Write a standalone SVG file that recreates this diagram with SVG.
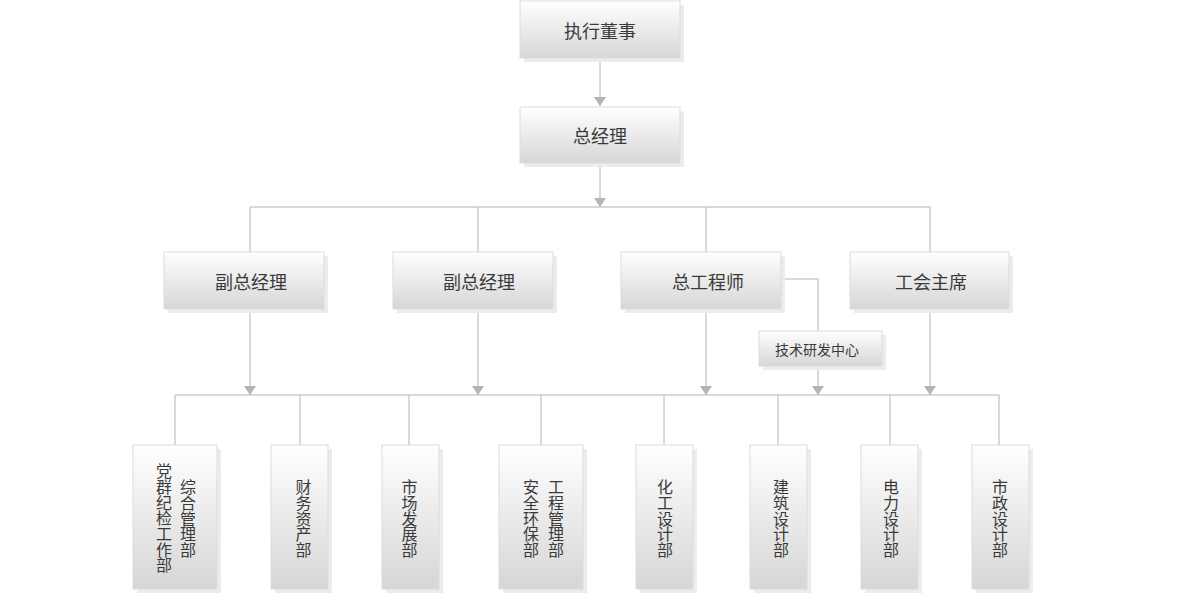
<svg xmlns="http://www.w3.org/2000/svg" width="1200" height="600" viewBox="0 0 1200 600">
<defs>
<linearGradient id="g" x1="0" y1="0" x2="0" y2="1">
<stop offset="0" stop-color="#ffffff"/>
<stop offset="1" stop-color="#d6d6d6"/>
</linearGradient>
<marker id="arr" viewBox="0 -6 9 12" refX="9" refY="0" markerWidth="9" markerHeight="12" markerUnits="userSpaceOnUse" orient="auto">
<path d="M0,-6 L9,0 L0,6 z" fill="#b4b4b4"/>
</marker>
<style>
.box{fill:url(#g);stroke:#dcdcdc;stroke-width:1}
.sh{fill:#ececec}
.ln{fill:none;stroke:#b4b4b4;stroke-width:1}
text{font-family:"Noto Sans CJK SC","Noto Sans",sans-serif;fill:#3a3a3a;text-anchor:middle;dominant-baseline:central}
.t18{font-size:18px}
.t14{font-size:14px}
.v{font-size:16px;writing-mode:vertical-rl;letter-spacing:-0.3px}
</style>
</defs>
<rect width="1200" height="600" fill="#ffffff"/>
<g id="connectors">
<path class="ln" d="M600,58 V106" marker-end="url(#arr)"/>
<path class="ln" d="M600,163 V207" marker-end="url(#arr)"/>
<path class="ln" d="M250,207 H930 M250,207 V252 M478,207 V252 M706,207 V252 M930,207 V252"/>
<path class="ln" d="M250,309 V395" marker-end="url(#arr)"/>
<path class="ln" d="M478,309 V395" marker-end="url(#arr)"/>
<path class="ln" d="M706,309 V395" marker-end="url(#arr)"/>
<path class="ln" d="M930,309 V395" marker-end="url(#arr)"/>
<path class="ln" d="M781,279 H818 V331"/>
<path class="ln" d="M818,366 V395" marker-end="url(#arr)"/>
<path class="ln" d="M175,395 H999 M175,395 V445 M300,395 V445 M409,395 V445 M541,395 V445 M664,395 V445 M778,395 V445 M890,395 V445 M999,395 V445"/>
</g>
<g id="n-ceo">
<rect class="sh" x="524" y="5" width="160" height="57"/>
<rect class="box" x="520" y="1" width="160" height="57"/>
<text class="t18" x="600" y="30">执行董事</text>
</g>
<g id="n-gm">
<rect class="sh" x="524" y="111" width="160" height="56"/>
<rect class="box" x="520" y="107" width="160" height="56"/>
<text class="t18" x="600" y="135">总经理</text>
</g>
<g id="n-vp1">
<rect class="sh" x="168" y="256" width="160" height="57"/>
<rect class="box" x="164" y="252" width="160" height="57"/>
<text class="t18" x="251" y="281">副总经理</text>
</g>
<g id="n-vp2">
<rect class="sh" x="397" y="256" width="160" height="57"/>
<rect class="box" x="393" y="252" width="160" height="57"/>
<text class="t18" x="479" y="281">副总经理</text>
</g>
<g id="n-ce">
<rect class="sh" x="625" y="256" width="160" height="57"/>
<rect class="box" x="621" y="252" width="160" height="57"/>
<text class="t18" x="708" y="281">总工程师</text>
</g>
<g id="n-union">
<rect class="sh" x="854" y="256" width="159" height="57"/>
<rect class="box" x="850" y="252" width="159" height="57"/>
<text class="t18" x="931" y="281">工会主席</text>
</g>
<g id="n-rd">
<rect class="sh" x="763" y="335" width="123" height="35"/>
<rect class="box" x="759" y="331" width="123" height="35"/>
<text class="t14" x="817" y="349">技术研发中心</text>
</g>
<g id="n-d1">
<rect class="sh" x="137" y="449" width="84" height="144"/>
<rect class="box" x="133" y="445" width="84" height="144"/>
<text class="v" x="164" y="518">党群纪检工作部</text>
<text class="v" x="188" y="518.5">综合管理部</text>
</g>
<g id="n-d2">
<rect class="sh" x="275" y="449" width="57" height="144"/>
<rect class="box" x="271" y="445" width="57" height="144"/>
<text class="v" x="303.5" y="518.5">财务资产部</text>
</g>
<g id="n-d3">
<rect class="sh" x="386" y="449" width="57" height="144"/>
<rect class="box" x="382" y="445" width="57" height="144"/>
<text class="v" x="409.5" y="518.5">市场发展部</text>
</g>
<g id="n-d4">
<rect class="sh" x="503" y="449" width="84" height="144"/>
<rect class="box" x="499" y="445" width="84" height="144"/>
<text class="v" x="531" y="518.5">安全环保部</text>
<text class="v" x="556" y="518.5">工程管理部</text>
</g>
<g id="n-d5">
<rect class="sh" x="640" y="449" width="57" height="144"/>
<rect class="box" x="636" y="445" width="57" height="144"/>
<text class="v" x="665" y="518.5">化工设计部</text>
</g>
<g id="n-d6">
<rect class="sh" x="754" y="449" width="57" height="144"/>
<rect class="box" x="750" y="445" width="57" height="144"/>
<text class="v" x="781" y="518.5">建筑设计部</text>
</g>
<g id="n-d7">
<rect class="sh" x="865" y="449" width="57" height="144"/>
<rect class="box" x="861" y="445" width="57" height="144"/>
<text class="v" x="891" y="518.5">电力设计部</text>
</g>
<g id="n-d8">
<rect class="sh" x="976" y="449" width="57" height="144"/>
<rect class="box" x="972" y="445" width="57" height="144"/>
<text class="v" x="1000" y="518.5">市政设计部</text>
</g>
</svg>
